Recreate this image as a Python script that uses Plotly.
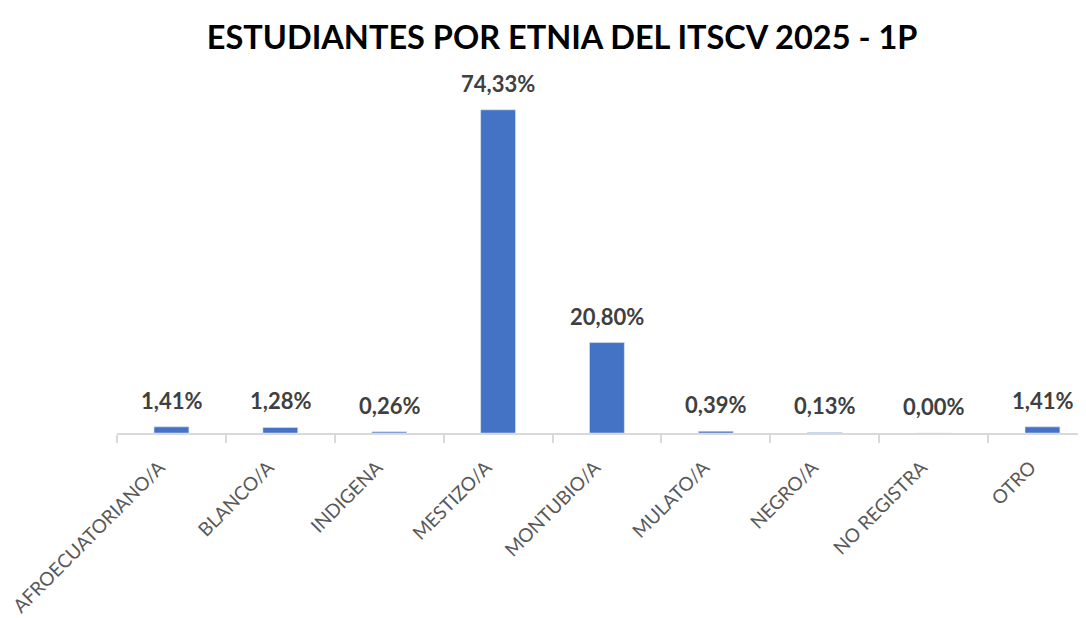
import plotly.graph_objects as go

# Datos
categorias = ["AFROECUATORIANO/A", "BLANCO/A", "INDIGENA", "MESTIZO/A", "MONTUBIO/A",
              "MULATO/A", "NEGRO/A", "NO REGISTRA", "OTRO"]
porcentajes = [1.41, 1.28, 0.26, 74.33, 20.80, 0.39, 0.13, 0.00, 1.41]

AZUL = "#4472C4"
GRIS_TEXTO = "#404040"
GRIS_EJE = "#D9D9D9"
FUENTE = "Lato, Open Sans, sans-serif"

fig = go.Figure(go.Bar(
    x=categorias,
    y=porcentajes,
    marker_color=AZUL,
    width=0.32,
    hoverinfo="x+y",
))

# Etiquetas de porcentaje sobre cada barra (formato con coma decimal)
for cat, val in zip(categorias, porcentajes):
    fig.add_annotation(
        x=cat, y=val,
        text=f"{val:.2f}%".replace(".", ","),
        showarrow=False,
        yanchor="bottom",
        yshift=11,
        font=dict(family=FUENTE, size=22, color=GRIS_TEXTO, weight="bold"),
    )

fig.update_layout(
    title=dict(
        text="<b>ESTUDIANTES POR ETNIA DEL ITSCV 2025 - 1P</b>",
        x=0.514, xref="container", xanchor="center",
        y=0.951, yref="container", yanchor="middle",
        font=dict(family=FUENTE, size=32.5, color="#000000"),
    ),
    xaxis=dict(
        range=[-0.5, 8.4],
        tickangle=-45,
        tickfont=dict(family=FUENTE, size=19, color="#595959"),
        ticklabelstandoff=14,
        ticklabelshift=-12,
        showline=True, linecolor=GRIS_EJE, linewidth=2,
        ticks="outside", tickson="boundaries", ticklen=8, tickcolor=GRIS_EJE, tickwidth=2,
        showgrid=False,
        automargin=False,
    ),
    yaxis=dict(
        range=[0, 81.2],
        visible=False,
        showgrid=False,
        automargin=False,
    ),
    plot_bgcolor="white",
    paper_bgcolor="white",
    width=1078, height=610,
    margin=dict(l=109, r=0, t=72, b=185),
    showlegend=False,
)

fig.write_html("out.html")
